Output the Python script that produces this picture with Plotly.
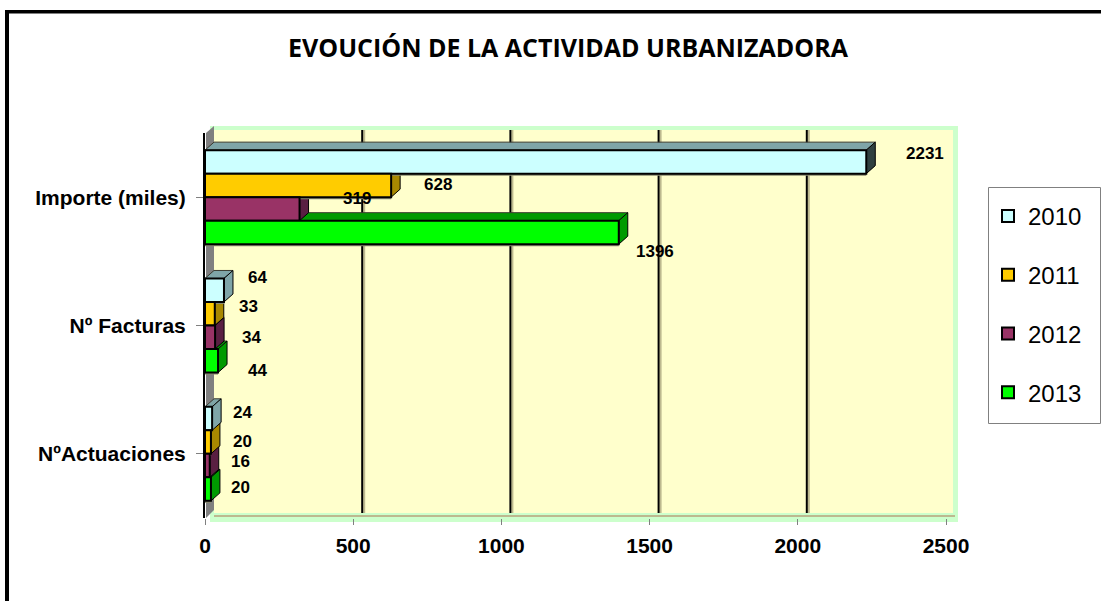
import plotly.graph_objects as go

categories = ["Importe (miles)", "Nº Facturas", "NºActuaciones"]
years = ["2010", "2011", "2012", "2013"]
v2010 = [2231, 64, 24]
v2011 = [628, 33, 20]
v2012 = [319, 34, 16]
v2013 = [1396, 44, 20]
series = [v2010, v2011, v2012, v2013]
x_ticks = [0, 500, 1000, 1500, 2000, 2500]

front = ["#CCFFFF", "#FFCC00", "#993366", "#00FF00"]
top_face = ["#7FA5A8", "#A88800", "#66224A", "#009A00"]
side_face = ["#7FA5A8", "#A88800", "#5A1F42", "#009A00"]

# layout in pixels
L, R, T, B = 205, 946, 133, 518
W, H = 1101, 601
px = lambda x: (x - L) / (R - L)
py = lambda y: (B - y) / (B - T)
DX, DY = 9, 8
X_MAX = 2500
unit = X_MAX / (R - L)
BARGAP = 0.267
band = (B - T) / 3
bw_cat = (1 - BARGAP) / 4
hh = bw_cat * band / 2

shapes = []
def rect(x0, y0, x1, y1, fill, line=None):
    shapes.append(dict(type="rect", xref="paper", yref="paper", x0=px(x0), x1=px(x1),
                       y0=py(y0), y1=py(y1), fillcolor=fill, layer="below",
                       line=line or dict(width=0)))

# outer frame
rect(5, 10, 9, 601, "#000000")
rect(5, 10, 1101, 13.5, "#000000")
# back wall, border and side wall
rect(210, 126, 958, 522, "#CCFFCC")
rect(214, 130, 953, 513, "#FFFFCC")
rect(214, 515, 955, 517, "#BDB98F")
shapes.append(dict(type="path", xref="paper", yref="paper", layer="below",
                   path=f"M{px(206)},{py(133)} L{px(214)},{py(126)} L{px(214)},{py(510)} L{px(206)},{py(518)} Z",
                   fillcolor="#808080", line_width=0))
# legend box
rect(988.5, 187.5, 1100.5, 423.5, "#FFFFFF", dict(color="#808080", width=1))

# gridlines on the back wall
for t in x_ticks[1:-1]:
    for off, col, w in [(DX + 2, "#BDB98F", 2), (DX, "#000000", 2)]:
        shapes.append(dict(type="line", xref="x", yref="paper", xsizemode="pixel", xanchor=t,
                           x0=off, x1=off, y0=py(513), y1=py(130),
                           line=dict(color=col, width=w), layer="below"))

# 3D faces of each bar, bottom bar first
dark = "#000000"
for j in range(3, -1, -1):
    for i in range(3):
        v = series[j][i]
        yc = i + (j - 1.5) * bw_cat
        # shadow under the bar
        shapes.append(dict(type="path", xref="x", yref="y", ysizemode="pixel", yanchor=yc, layer="below",
                           path=f"M0,{-hh-2} L{v},{-hh-2} L{v},{-hh} L0,{-hh} Z",
                           fillcolor="#8A8A70", line_width=0))
        shapes.append(dict(type="path", xref="x", yref="y", ysizemode="pixel", yanchor=yc, layer="below",
                           path=f"M0,{hh} L{v},{hh} L{v+DX*unit},{hh+DY} L{DX*unit},{hh+DY} Z",
                           fillcolor=top_face[j], line=dict(color="#3A3A30", width=1)))
        side = "#2F4040" if (j == 0 and v > 1000) else side_face[j]
        shapes.append(dict(type="path", xref="x", yref="y", xsizemode="pixel", ysizemode="pixel",
                           xanchor=v, yanchor=yc, layer="below",
                           path=f"M0,{-hh} L{DX},{-hh+DY} L{DX},{hh+DY} L0,{hh} Z",
                           fillcolor=side, line=dict(color=dark, width=1)))

fig = go.Figure()
for j, y in enumerate(years):
    fig.add_trace(go.Bar(name=y, y=list(range(3)), x=series[j], orientation="h",
                         marker=dict(color=front[j], line=dict(color="#000000", width=2)),
                         legendgroup=y, hoverinfo="skip"))

# value labels: pixel offsets from each bar's end
label_dx = [[58.6, 34, 30.6], [47, 34, 32], [57.6, 36, 31], [36, 39, 30]]
label_dy = [[8, 12.5, 6.5], [1, 7.7, 1], [10, -0.7, 3.6], [-19.5, -10, 2]]
annotations = [dict(text="EVOUCIÓN DE LA ACTIVIDAD URBANIZADORA", xref="paper", yref="paper",
                    x=px(568), y=py(47), xanchor="center", yanchor="middle", showarrow=False,
                    font=dict(family="Open Sans", size=25, color="#000000", weight="bold"))]
for j in range(4):
    for i in range(3):
        annotations.append(dict(text=str(series[j][i]), x=series[j][i], y=i + (j - 1.5) * bw_cat,
                                xref="x", yref="y", showarrow=False, xanchor="center", yanchor="middle",
                                xshift=label_dx[j][i], yshift=label_dy[j][i],
                                font=dict(family="Liberation Sans", size=17, color="#000000", weight="bold")))

fig.update_layout(
    width=W, height=H, autosize=False, barmode="group", bargap=BARGAP, bargroupgap=0,
    margin=dict(l=L, r=W - R, t=T, b=H - B, pad=0),
    paper_bgcolor="#FFFFFF", plot_bgcolor="rgba(0,0,0,0)",
    shapes=shapes, annotations=annotations,
    showlegend=True,
    legend=dict(x=px(988), y=py(194), xanchor="left", yanchor="top", bgcolor="rgba(0,0,0,0)",
                borderwidth=0, tracegroupgap=24.5,
                traceorder="grouped", entrywidth=60,
                font=dict(family="Liberation Sans", size=24, color="#000000")),
    xaxis=dict(range=[0, X_MAX], tickvals=x_ticks, showgrid=False, zeroline=False, showline=False,
               ticks="outside", ticklen=6, tickcolor="#808080", tickwidth=1, ticklabelstandoff=3,
               tickfont=dict(family="Liberation Sans", size=21, color="#000000", weight="bold")),
    yaxis=dict(range=[2.5, -0.5], tickmode="array", tickvals=[0, 1, 2], ticktext=categories,
               showgrid=False, zeroline=False, showline=True, linecolor="#000000", linewidth=2,
               tickson="boundaries", ticks="outside", ticklen=7, tickcolor="#808080", tickwidth=1,
               ticklabelstandoff=6,
               tickfont=dict(family="Liberation Sans", size=21, color="#000000", weight="bold")),
)
fig.write_html("out.html", config={"displayModeBar": False},
               post_script="document.body.style.margin='0';document.body.style.overflow='hidden';")
